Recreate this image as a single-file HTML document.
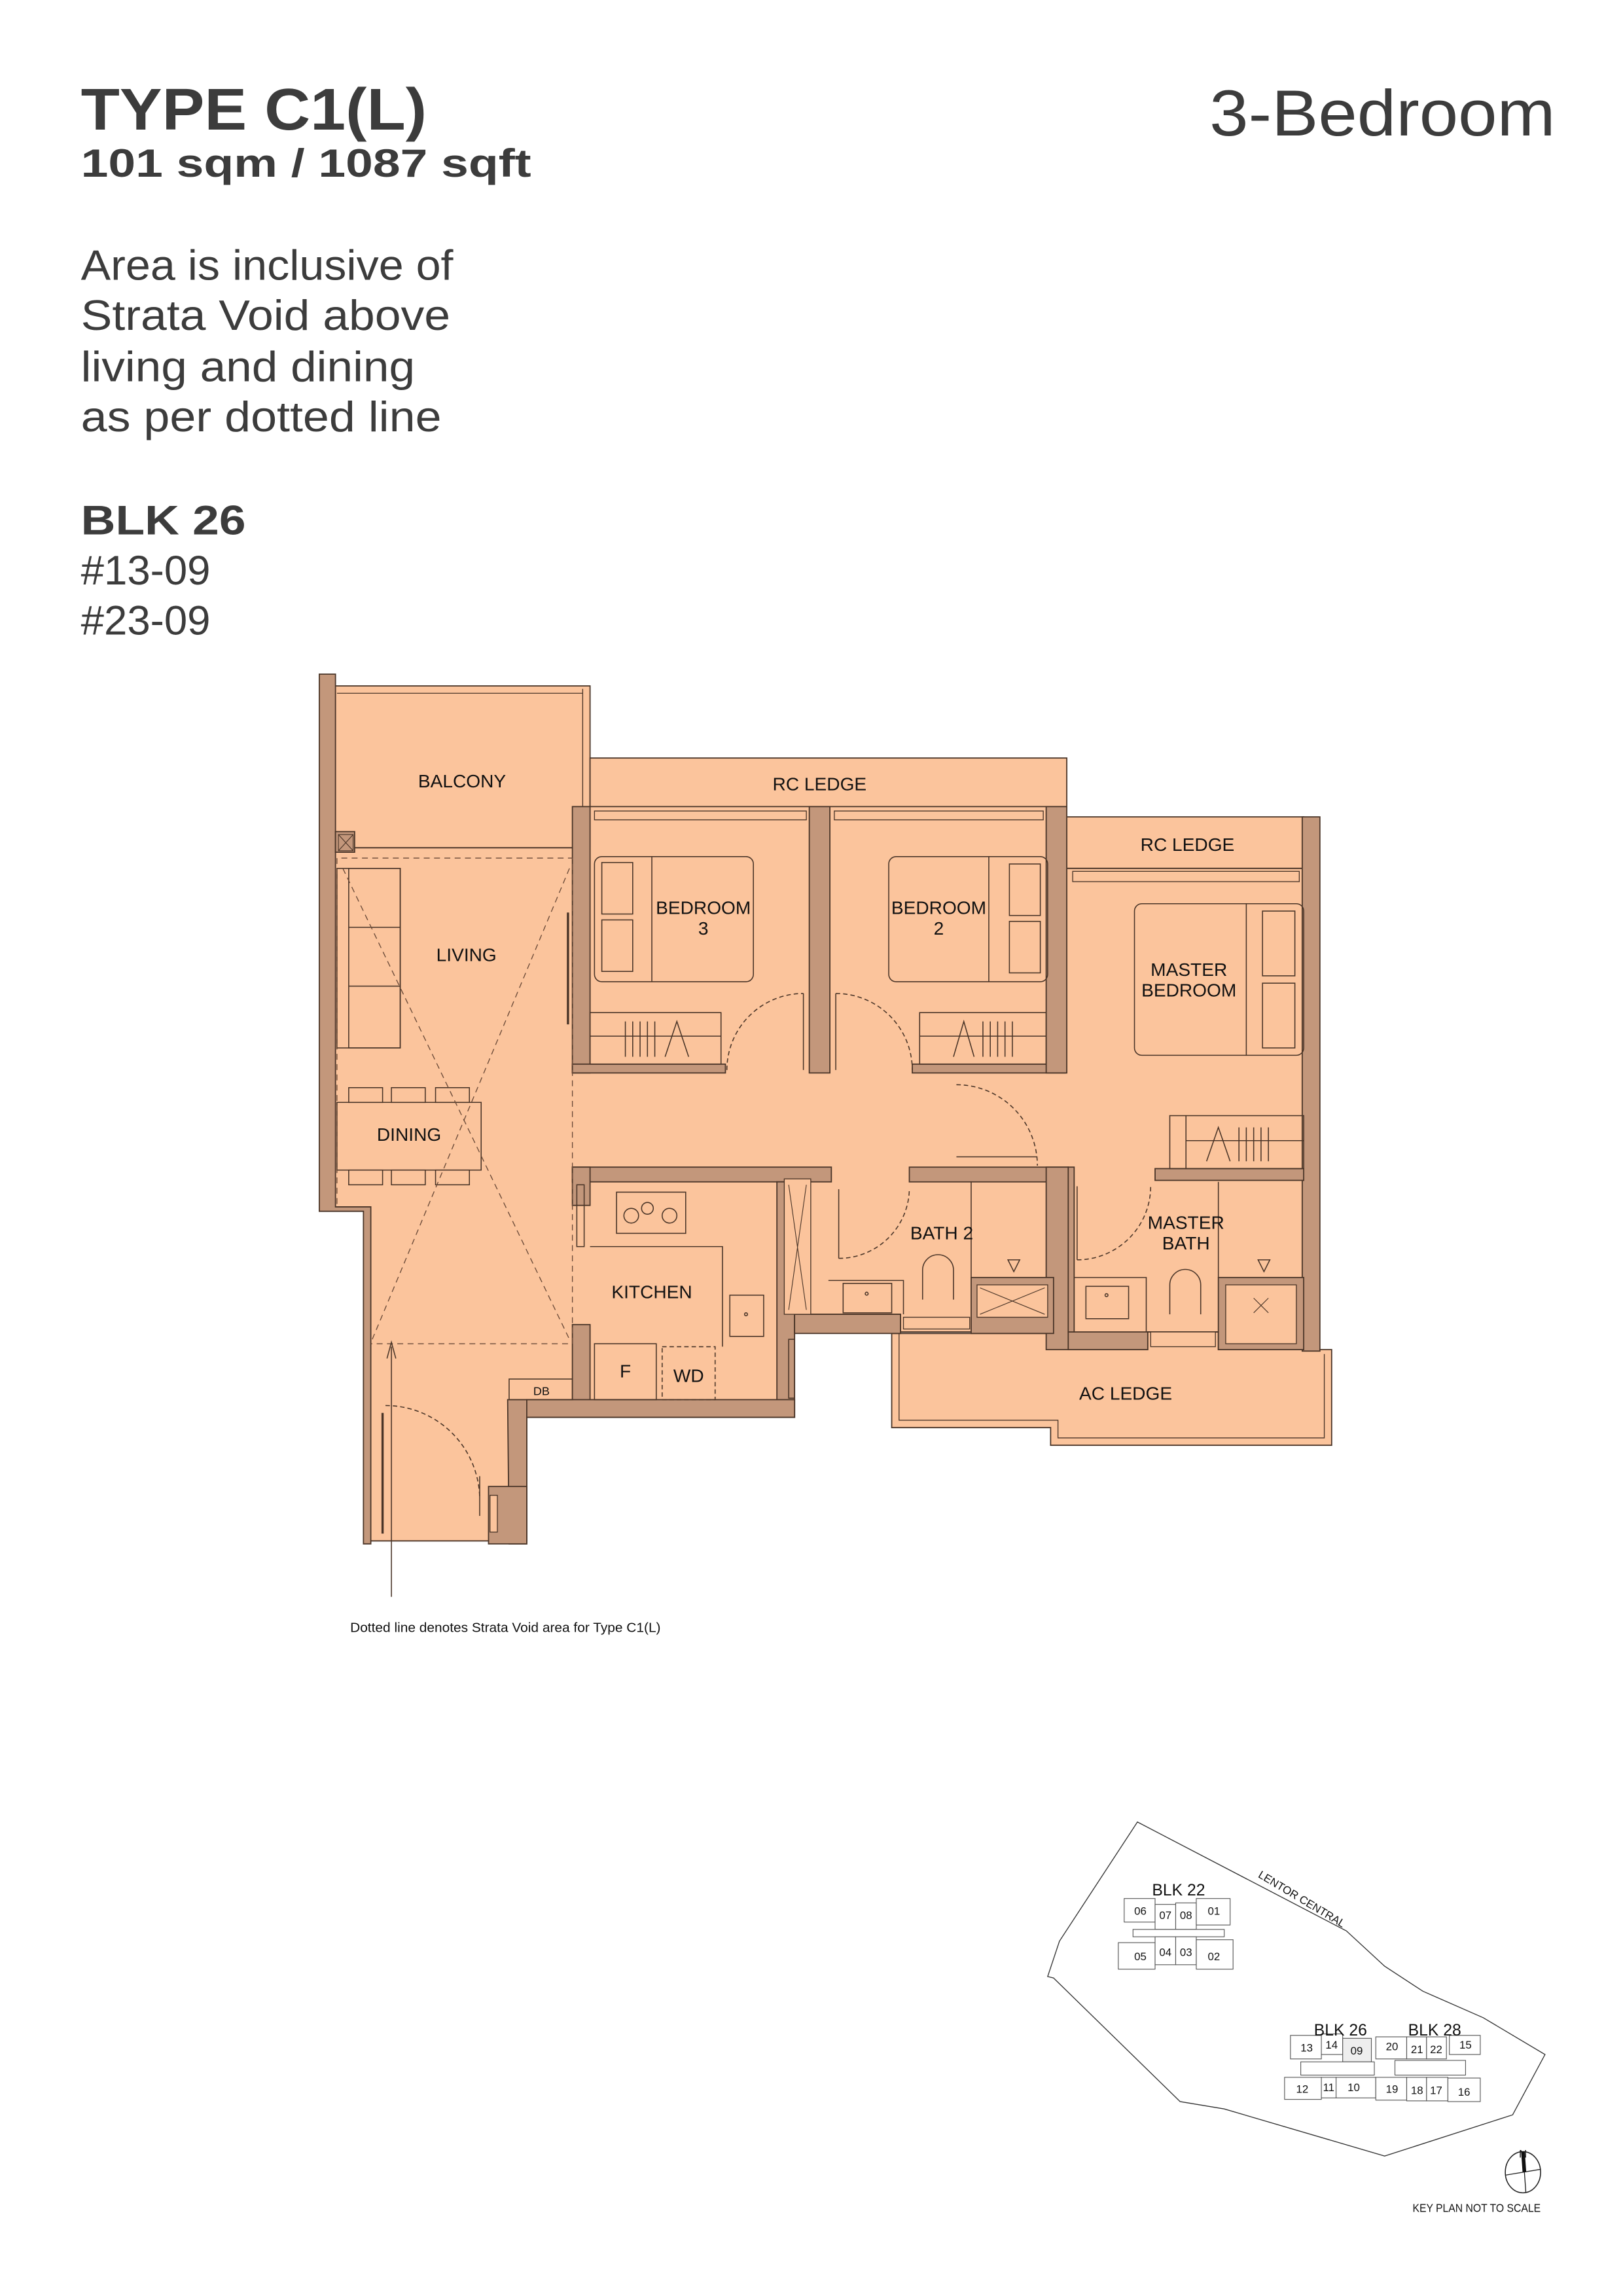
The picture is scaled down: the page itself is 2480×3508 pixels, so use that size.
<!DOCTYPE html>
<html><head><meta charset="utf-8"><style>html,body{margin:0;padding:0;background:#fff}svg{display:block}</style></head>
<body>
<svg xmlns="http://www.w3.org/2000/svg" width="2480" height="3508" viewBox="0 0 1103 1560" font-family="Liberation Sans, Arial, sans-serif">
<rect width="1103" height="1560" fill="#fff"/>
<g fill="#3c3c3c">
<text x="55" y="88" font-size="40" font-weight="bold" textLength="235" lengthAdjust="spacingAndGlyphs">TYPE C1(L)</text>
<text x="55" y="120" font-size="27" font-weight="bold" textLength="306" lengthAdjust="spacingAndGlyphs">101 sqm / 1087 sqft</text>
<text x="822" y="92" font-size="44" textLength="235" lengthAdjust="spacingAndGlyphs">3-Bedroom</text>
<text x="55" y="190" font-size="29" textLength="253" lengthAdjust="spacingAndGlyphs">Area is inclusive of</text>
<text x="55" y="224" font-size="29" textLength="251" lengthAdjust="spacingAndGlyphs">Strata Void above</text>
<text x="55" y="259" font-size="29" textLength="227" lengthAdjust="spacingAndGlyphs">living and dining</text>
<text x="55" y="293" font-size="29" textLength="245" lengthAdjust="spacingAndGlyphs">as per dotted line</text>
<text x="55" y="363" font-size="28" font-weight="bold" textLength="112" lengthAdjust="spacingAndGlyphs">BLK 26</text>
<text x="55" y="397" font-size="28" textLength="88" lengthAdjust="spacingAndGlyphs">#13-09</text>
<text x="55" y="431" font-size="28" textLength="88" lengthAdjust="spacingAndGlyphs">#23-09</text>
</g>

<g stroke="#4a3528" stroke-width="0.8">
<g fill="#FBC49C">
<rect x="227" y="466" width="174" height="110"/>
<rect x="401" y="515" width="324" height="33"/>
<rect x="724" y="555" width="162" height="35"/>
<polygon points="227,576 401,576 401,548 725,548 725,590 886,590 886,917 828,917 828,905 780,905 780,917 726,917 726,905 612,905 612,893 540,893 540,963 358,963 358,1047 252,1047 252,820 227,820" />
</g>
<polygon points="606,906 726,906 726,917 780,917 780,905 828,905 828,917 905,917 905,982 714,982 714,970 606,970" fill="#FBC49C"/>
<polyline points="611,906 611,965 719,965 719,977 900,977 900,920" fill="none" stroke-width="0.6"/>
<line x1="396" y1="468" x2="396" y2="576" stroke-width="0.6"/>
<line x1="229" y1="471" x2="396" y2="471" stroke-width="0.6"/>
<g fill="#C3977B">
<polygon points="217,458 228,458 228,820 252,820 252,1049 247,1049 247,823 217,823"/>
<rect x="228" y="565" width="13" height="14"/>
<rect x="389" y="548" width="12" height="181"/>
<rect x="389" y="723" width="104" height="6"/>
<rect x="550" y="548" width="14" height="181"/>
<rect x="620" y="723" width="104" height="6"/>
<rect x="711" y="548" width="14" height="181"/>
<rect x="885" y="555" width="12" height="363"/>
<rect x="785" y="794" width="101" height="8"/>
<rect x="389" y="793" width="176" height="10"/>
<rect x="389" y="793" width="12" height="26"/>
<rect x="389" y="900" width="12" height="63"/>
<rect x="528" y="803" width="12" height="160"/>
<polygon points="345,951 389,951 389,963 540,963 540,951 540,963 358,963 358,1049 346,1049"/>
<rect x="358" y="951" width="182" height="12"/>
<rect x="332" y="1010" width="26" height="39"/>
<rect x="540" y="893" width="72" height="13"/>
<polygon points="618,793 726,793 726,803 618,803"/>
<rect x="711" y="793" width="15" height="124"/>
<rect x="660" y="868" width="56" height="38"/>
<rect x="726" y="905" width="54" height="12"/>
<rect x="828" y="868" width="58" height="49"/>
<rect x="726" y="793" width="4" height="112"/>
</g>
<g fill="#FBC49C" stroke-width="0.6">
<rect x="404" y="551" width="144" height="6"/><rect x="567" y="551" width="142" height="6"/>
<rect x="729" y="592" width="154" height="7"/>
<rect x="333" y="1016" width="5" height="25"/>
<rect x="664" y="873" width="48" height="22"/><rect x="833" y="873" width="48" height="40"/>
<rect x="533" y="801" width="18" height="92"/>
<rect x="614" y="895" width="45" height="8"/><rect x="782" y="905" width="44" height="10"/>
</g>
<g stroke-width="0.5" fill="none">
<path d="M666,875 L710,893 M710,875 L666,893 M852,882 L862,892 M862,882 L852,892 M536,805 L548,890 M548,805 L536,890 M230,567 L240,578 M240,567 L230,578"/>
<rect x="230" y="567" width="10" height="11"/>
</g>
<g fill="none" stroke-width="0.7">
<rect x="404" y="582" width="108" height="85" rx="5"/><line x1="443" y1="582" x2="443" y2="667"/>
<rect x="409" y="586" width="21" height="35"/><rect x="409" y="625" width="21" height="35"/>
<rect x="604" y="582" width="108" height="85" rx="5"/><line x1="672" y1="582" x2="672" y2="667"/>
<rect x="686" y="587" width="21" height="35"/><rect x="686" y="626" width="21" height="35"/>
<rect x="771" y="614" width="115" height="103" rx="5"/><line x1="847" y1="614" x2="847" y2="717"/>
<rect x="858" y="619" width="22" height="44"/><rect x="858" y="668" width="22" height="44"/>
<rect x="401" y="688" width="89" height="35"/><line x1="401" y1="704" x2="490" y2="704"/>
<path d="M425,694 v24 M430,694 v24 M435,694 v24 M440,694 v24 M445,694 v24 M452,718 L460,694 L468,718"/>
<rect x="625" y="688" width="86" height="35"/><line x1="625" y1="704" x2="711" y2="704"/>
<path d="M648,718 L655,694 L662,718 M668,694 v24 M673,694 v24 M678,694 v24 M683,694 v24 M688,694 v24"/>
<rect x="795" y="758" width="91" height="36"/><line x1="806" y1="758" x2="806" y2="794"/><line x1="806" y1="775" x2="886" y2="775"/>
<path d="M820,789 L828,766 L836,789 M842,766 v23 M847,766 v23 M852,766 v23 M857,766 v23 M862,766 v23"/>
<rect x="237" y="590" width="35" height="122"/><rect x="229" y="590" width="43" height="122"/>
<line x1="237" y1="630" x2="272" y2="630"/><line x1="237" y1="670" x2="272" y2="670"/>
<rect x="229" y="749" width="98" height="46"/>
<rect x="237" y="739" width="23" height="10"/><rect x="266" y="739" width="23" height="10"/><rect x="296" y="739" width="23" height="10"/>
<rect x="237" y="795" width="23" height="10"/><rect x="266" y="795" width="23" height="10"/><rect x="296" y="795" width="23" height="10"/>
<polyline points="401,847 491,847 491,915"/>
<rect x="419" y="810" width="47" height="28"/>
<circle cx="429" cy="826" r="5"/><circle cx="440" cy="821" r="4"/><circle cx="455" cy="826" r="5"/>
<rect x="496" y="880" width="23" height="28"/><circle cx="507" cy="893" r="1"/>
<rect x="404" y="913" width="42" height="38"/>
<rect x="450" y="915" width="36" height="36" stroke-dasharray="3,2"/>
<rect x="346" y="937" width="43" height="14"/>
<polyline points="563,870 614,870 614,893"/><rect x="573" y="872" width="33" height="20"/><circle cx="589" cy="879" r="1"/>
<path d="M627,883 v-20 a10,10 0 0 1 21,0 v20"/><line x1="660" y1="803" x2="660" y2="868"/>
<polyline points="730,868 779,868 779,905"/><rect x="738" y="874" width="29" height="22"/><circle cx="752" cy="880" r="1"/>
<path d="M795,893 v-20 a10,10 0 0 1 21,0 v20"/><line x1="828" y1="803" x2="828" y2="868"/>
<path d="M685,856 l4,8 l4,-8 z M855,856 l4,8 l4,-8 z"/>
<line x1="386" y1="620" x2="386" y2="696" stroke-width="1.5"/>
<line x1="260" y1="960" x2="260" y2="1042" stroke-width="1.5"/>
</g>
<g fill="none" stroke-width="0.7" stroke-dasharray="3,2">
<path d="M494,727 A52,52 0 0 1 546,675"/>
<path d="M568,675 A52,52 0 0 1 620,727"/>
<path d="M650,737 A55,55 0 0 1 705,792"/>
<path d="M570,855 A48,48 0 0 0 618,808"/>
<path d="M732,856 A50,50 0 0 0 782,806"/>
<path d="M262,955 A64,64 0 0 1 326,1018"/>
</g>
<g fill="none" stroke-width="0.7">
<line x1="546" y1="675" x2="546" y2="727"/><line x1="568" y1="675" x2="568" y2="727"/>
<line x1="650" y1="786" x2="705" y2="786"/><line x1="570" y1="808" x2="570" y2="855"/><line x1="732" y1="806" x2="732" y2="856"/>
<line x1="326" y1="1003" x2="326" y2="1030"/>
<rect x="392" y="805" width="5" height="42"/><rect x="536" y="910" width="4" height="40"/>
</g>
<g fill="none" stroke="#6a4a38" stroke-width="0.6" stroke-dasharray="4,3">
<polyline points="229,818 229,583 389,583 389,913 252,913"/>
<line x1="233" y1="590" x2="387" y2="910"/><line x1="387" y1="590" x2="253" y2="910"/>
</g>
<line x1="266" y1="1085" x2="266" y2="915" stroke="#4a3528" stroke-width="0.7"/>
<path d="M263,923 L266,912 L269,923" fill="none" stroke="#4a3528" stroke-width="0.7"/>
</g>
<g font-size="12.5" fill="#111" text-anchor="middle">
<text x="314" y="535">BALCONY</text>
<text x="557" y="537">RC LEDGE</text>
<text x="807" y="578">RC LEDGE</text>
<text x="478" y="621">BEDROOM</text><text x="478" y="635">3</text>
<text x="638" y="621">BEDROOM</text><text x="638" y="635">2</text>
<text x="808" y="663">MASTER</text><text x="808" y="677">BEDROOM</text>
<text x="317" y="653">LIVING</text>
<text x="278" y="775">DINING</text>
<text x="443" y="882">KITCHEN</text>
<text x="640" y="842">BATH 2</text>
<text x="806" y="835">MASTER</text><text x="806" y="849">BATH</text>
<text x="765" y="951">AC LEDGE</text>
<text x="425" y="936">F</text>
<text x="468" y="939">WD</text>
<text x="368" y="948" font-size="8">DB</text>
</g>
<text x="238" y="1109" font-size="9" fill="#111" textLength="211" lengthAdjust="spacingAndGlyphs">Dotted line denotes Strata Void area for Type C1(L)</text>

<g fill="none" stroke="#333" stroke-width="0.6">
<polygon points="773,1238 915,1312 941,1336 967,1353 1008,1371 1050,1396 1028,1437 941,1465 832,1433 802,1428 716,1344 712,1343 720,1319"/>
</g>
<text x="885" y="1293" font-size="7.5" fill="#111" text-anchor="middle" transform="rotate(31 885 1290)">LENTOR CENTRAL</text>
<g fill="#fff" stroke="#555" stroke-width="0.5">
<rect x="764" y="1290" width="21" height="16"/><rect x="785" y="1294" width="14" height="17"/><rect x="799" y="1293" width="14" height="18"/><rect x="813" y="1290" width="23" height="18"/>
<rect x="770" y="1311" width="62" height="5"/>
<rect x="760" y="1320" width="25" height="18"/><rect x="785" y="1316" width="14" height="19"/><rect x="799" y="1316" width="14" height="19"/><rect x="813" y="1318" width="25" height="20"/>
<rect x="877" y="1383" width="21" height="16"/><rect x="898" y="1382" width="14.5" height="14"/><rect x="912.5" y="1385" width="19.5" height="16" fill="#eee"/>
<rect x="884" y="1401" width="50" height="9"/>
<rect x="873" y="1411.5" width="25" height="15"/><rect x="898" y="1411.5" width="10" height="14"/><rect x="908" y="1411.5" width="27" height="14"/>
<rect x="935" y="1384" width="21" height="15"/><rect x="956" y="1384" width="13.5" height="15"/><rect x="969.5" y="1384" width="13.5" height="15"/><rect x="985" y="1383" width="21" height="13"/>
<rect x="948" y="1400" width="48" height="10"/>
<rect x="935" y="1411.5" width="21" height="15.5"/><rect x="956" y="1411.5" width="13.5" height="16"/><rect x="969.5" y="1411.5" width="14.5" height="16"/><rect x="984" y="1412" width="22" height="16"/>
</g>
<g font-size="7.5" fill="#111" text-anchor="middle">
<text x="775" y="1301">06</text><text x="792" y="1304">07</text><text x="806" y="1304">08</text><text x="825" y="1301">01</text>
<text x="775" y="1332">05</text><text x="792" y="1329">04</text><text x="806" y="1329">03</text><text x="825" y="1332">02</text>
<text x="888" y="1394">13</text><text x="905" y="1392">14</text><text x="922" y="1396">09</text>
<text x="885" y="1422">12</text><text x="903" y="1421">11</text><text x="920" y="1421">10</text>
<text x="946" y="1393">20</text><text x="963" y="1395">21</text><text x="976" y="1395">22</text><text x="996" y="1392">15</text>
<text x="946" y="1422">19</text><text x="963" y="1423">18</text><text x="976" y="1423">17</text><text x="995" y="1424">16</text>
</g>
<g font-size="11" fill="#111" text-anchor="middle">
<text x="801" y="1288">BLK 22</text><text x="911" y="1383">BLK 26</text><text x="975" y="1383">BLK 28</text>
</g>
<ellipse cx="1035" cy="1476" rx="12" ry="14" fill="none" stroke="#222" stroke-width="0.7"/>
<line x1="1023" y1="1478" x2="1047" y2="1474" stroke="#222" stroke-width="0.6"/>
<line x1="1035" y1="1462" x2="1037" y2="1490" stroke="#222" stroke-width="0.6"/>
<line x1="1035" y1="1462" x2="1036" y2="1476" stroke="#111" stroke-width="2.5"/>
<text x="1035" y="1466" font-size="7.5" fill="#111" text-anchor="middle">N</text>
<text x="960" y="1503" font-size="8" fill="#111" textLength="87" lengthAdjust="spacingAndGlyphs">KEY PLAN NOT TO SCALE</text>
</svg>
</body></html>
